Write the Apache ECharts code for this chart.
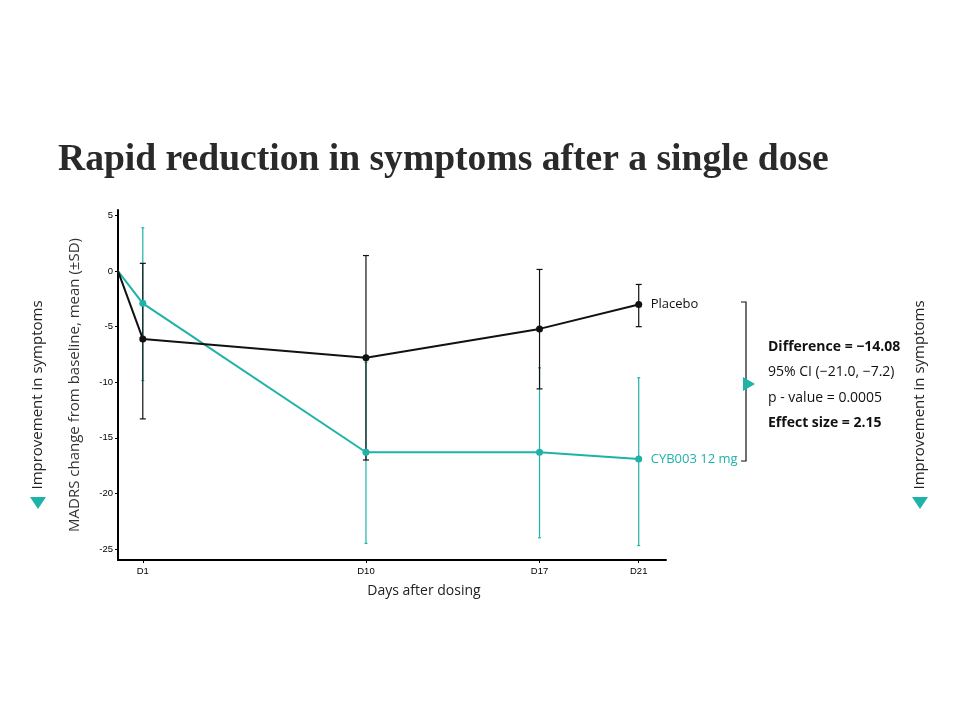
<!DOCTYPE html>
<html><head><meta charset="utf-8">
<script src="https://cdn.jsdelivr.net/npm/echarts@6/dist/echarts.min.js"></script>
<style>html,body{margin:0;padding:0;background:#fff}#c{width:960px;height:720px}</style>
</head><body><div id="c"></div>
<script>
// ---- data ----
const days = [0, 1, 10, 17, 21];
const dayLabels = ['D1', 'D10', 'D17', 'D21'];
const dayTickValues = [1, 10, 17, 21];
const yTickValues = [-25, -20, -15, -10, -5, 0, 5];
const placeboMean = [0, -6.1, -7.8, -5.2, -3.0];
const placeboUpper = [null, 0.7, 1.4, 0.15, -1.2];
const placeboLower = [null, -13.3, -17.0, -10.6, -5.0];
const cybMean = [0, -2.9, -16.3, -16.3, -16.9];
const cybUpper = [null, 3.9, -8.2, -8.7, -9.6];
const cybLower = [null, -9.85, -24.5, -24.0, -24.7];
const statLines = ['Difference = \u221214.08', '95% CI (\u221221.0, \u22127.2)', 'p - value = 0.0005', 'Effect size = 2.15'];

const TEAL = '#1fb2a9';
const BLACK = '#111111';
const FONT = "'Open Sans', 'Noto Sans', sans-serif";

function pairs(mean) {
  return days.map((d, i) => i === 0 ? { value: [d, mean[i]], symbol: 'none' } : [d, mean[i]]);
}
function errData(up, lo) {
  const out = [];
  days.forEach((d, i) => { if (up[i] != null) out.push([d, lo[i], up[i]]); });
  return out;
}
function errSeries(up, lo, color, cap, z) {
  return {
    type: 'custom', z: z, silent: true,
    data: errData(up, lo),
    encode: { x: 0, y: [1, 2] },
    renderItem: function (params, api) {
      const x = api.value(0);
      const p1 = api.coord([x, api.value(1)]);
      const p2 = api.coord([x, api.value(2)]);
      const st = { stroke: color, lineWidth: 1.2 };
      const children = [
        { type: 'line', shape: { x1: p1[0], y1: p1[1], x2: p2[0], y2: p2[1] }, style: st },
        { type: 'line', shape: { x1: p1[0] - cap, y1: p1[1], x2: p1[0] + cap, y2: p1[1] }, style: st },
        { type: 'line', shape: { x1: p2[0] - cap, y1: p2[1], x2: p2[0] + cap, y2: p2[1] }, style: st }
      ];
      return { type: 'group', children: children };
    }
  };
}

const chart = echarts.init(document.getElementById('c'));
const statGraphics = statLines.map((t, i) => ({
  type: 'text', x: 768, y: 347 + i * 25.3,
  style: { text: t, fill: '#111', verticalAlign: 'middle', font: ((i === 0 || i === 3) ? 'bold ' : '') + '14px ' + FONT }
}));

chart.setOption({
  backgroundColor: '#ffffff',
  animation: false,
  title: {
    text: 'Rapid reduction in symptoms after a single dose',
    left: 53, top: 136,
    textStyle: { fontFamily: "'Liberation Serif', 'DejaVu Serif', serif", fontWeight: 'bold', fontSize: 37.6, color: '#2a2a2a' }
  },
  grid: { left: 118, right: 294, top: 210, bottom: 160 },
  xAxis: {
    type: 'value', min: 0, max: 22.1,
    axisLine: { show: true, onZero: false, lineStyle: { color: '#000', width: 2 } },
    axisTick: { show: true, customValues: dayTickValues, length: 3, lineStyle: { color: '#000' } },
    axisLabel: {
      customValues: dayTickValues, color: '#000', fontSize: 9.5, margin: 6,
      fontFamily: "'Liberation Sans', sans-serif",
      formatter: v => dayLabels[dayTickValues.indexOf(v)]
    },
    splitLine: { show: false }
  },
  yAxis: {
    type: 'value', min: -26, max: 5.5,
    name: 'MADRS change from baseline, mean (\u00b1SD)', nameLocation: 'middle', nameGap: 36,
    nameTextStyle: { fontFamily: FONT, fontSize: 15, color: '#333' },
    axisLine: { show: true, onZero: false, lineStyle: { color: '#000', width: 2 } },
    axisTick: { show: true, customValues: yTickValues, length: 3, lineStyle: { color: '#000' } },
    axisLabel: { customValues: yTickValues, color: '#000', fontSize: 9.5, margin: 5, fontFamily: "'Liberation Sans', sans-serif" },
    splitLine: { show: false }
  },
  series: [
    errSeries(placeboUpper, placeboLower, BLACK, 3, 2),
    errSeries(cybUpper, cybLower, TEAL, 1.5, 1),
    {
      type: 'line', name: 'Placebo', data: pairs(placeboMean), z: 4,
      symbol: 'circle', symbolSize: 7, showAllSymbol: true,
      lineStyle: { color: BLACK, width: 2 }, itemStyle: { color: BLACK },
      endLabel: { show: true, formatter: 'Placebo', color: '#111', fontSize: 13, fontFamily: FONT, distance: 12 }
    },
    {
      type: 'line', name: 'CYB003 12 mg', data: pairs(cybMean), z: 3,
      symbol: 'circle', symbolSize: 7, showAllSymbol: true,
      lineStyle: { color: TEAL, width: 2 }, itemStyle: { color: TEAL },
      endLabel: { show: true, formatter: 'CYB003 12 mg', color: TEAL, fontSize: 13, fontFamily: FONT, distance: 12 }
    }
  ],
  graphic: [
    { type: 'text', x: 424, y: 591,
      style: { text: 'Days after dosing', fill: '#222', font: '14px ' + FONT, align: 'center', verticalAlign: 'middle' } },
    // left side annotation
    { type: 'text', x: 38, y: 395, rotation: Math.PI / 2,
      style: { text: 'Improvement in symptoms', fill: '#222', font: '15px ' + FONT, align: 'center', verticalAlign: 'middle' } },
    { type: 'polygon', shape: { points: [[30, 497], [46, 497], [38, 509]] }, style: { fill: TEAL } },
    // right side annotation
    { type: 'text', x: 920, y: 395, rotation: Math.PI / 2,
      style: { text: 'Improvement in symptoms', fill: '#222', font: '15px ' + FONT, align: 'center', verticalAlign: 'middle' } },
    { type: 'polygon', shape: { points: [[912, 497], [928, 497], [920, 509]] }, style: { fill: TEAL } },
    // bracket
    { type: 'polyline', shape: { points: [[741, 302], [746, 302], [746, 461], [741, 461]] }, style: { stroke: '#111', lineWidth: 1.2, fill: null } },
    { type: 'polygon', shape: { points: [[743, 377], [743, 391], [755, 384]] }, style: { fill: TEAL } }
  ].concat(statGraphics)
});
</script></body></html>
